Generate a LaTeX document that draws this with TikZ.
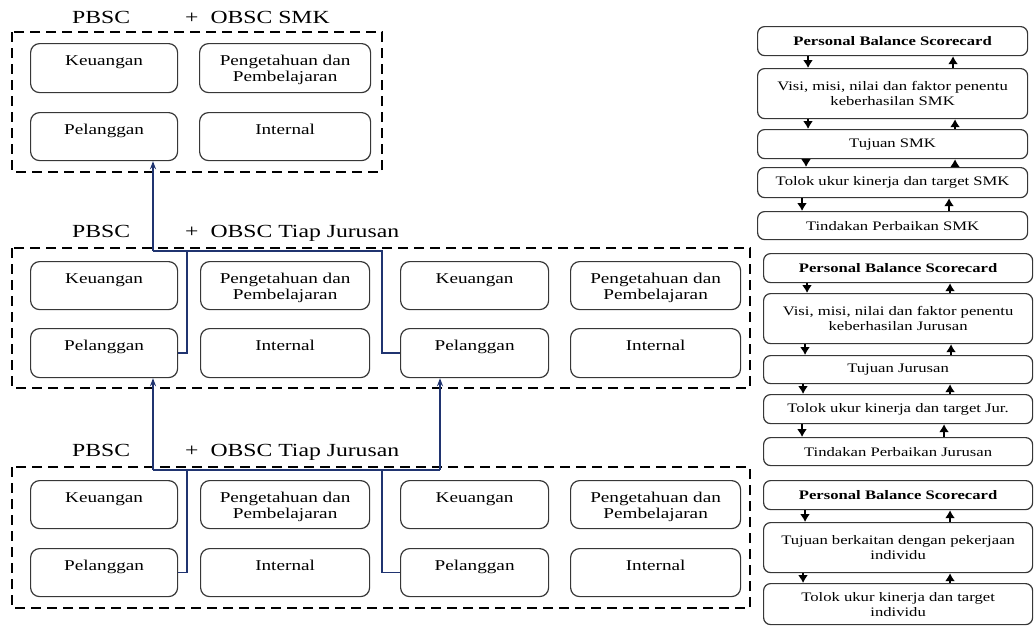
\documentclass[tikz,border=0pt]{standalone}
\usepackage{fontspec}
\setmainfont{Liberation Serif}[FakeStretch=1.28]
\usetikzlibrary{arrows.meta}
\definecolor{navy}{RGB}{32,52,112}
\definecolor{boxline}{RGB}{55,55,55}
\tikzset{
 panel/.style={draw=black, line width=2.3pt, dash pattern=on 10pt off 6pt},
 lbox/.style={draw=boxline, line width=1.2pt, rounded corners=9pt, inner sep=0pt, anchor=north west, font=\fontsize{15}{16.5}\selectfont},
 rbox/.style={draw=boxline, line width=1.2pt, rounded corners=7pt, inner sep=0pt, anchor=north west, align=center, font=\fontsize{13}{15}\selectfont},
 ttl/.style={anchor=base west, inner sep=0pt, font=\fontsize{18.5}{20}\selectfont},
 conn/.style={draw=navy, line width=1.3pt},
 connarr/.style={conn, line width=1.6pt, -{Stealth[length=8pt,width=6pt]}},
 rarr/.style={line width=1.5pt, -{Latex[length=8pt,width=10pt]}},
}
\newcommand{\boxtxt}[3]{\parbox[c][#2pt][t]{#1pt}{\centering\rule{0pt}{21.5pt}#3}}
\begin{document}
\begin{tikzpicture}[x=1pt,y=-1pt]
\useasboundingbox (0,0) rectangle (1035,627);
% ---------- top panel
\node[ttl] (t1a) at (72,23) {PBSC};
\node[ttl] (t1b) at (185,23) {+\hspace{12pt}OBSC SMK};
\draw[panel] (12,32) rectangle (382,172);
\node[lbox] (tk) at (30,43) {\boxtxt{147}{49}{Keuangan}};
\node[lbox] (tp) at (199,43) {\boxtxt{171}{49}{Pengetahuan dan\\Pembelajaran}};
\node[lbox] (tl) at (30,112) {\boxtxt{147}{48}{Pelanggan}};
\node[lbox] (ti) at (199,112) {\boxtxt{171}{48}{Internal}};
% ---------- middle panel
\node[ttl] (t2a) at (72,237) {PBSC};
\node[ttl] (t2b) at (185,237) {+\hspace{12pt}OBSC Tiap Jurusan};
\draw[panel] (12,248) rectangle (750,388);
\node[lbox] (mk1) at (30,261) {\boxtxt{147}{48}{Keuangan}};
\node[lbox] (mp1) at (200,261) {\boxtxt{169}{48}{Pengetahuan dan\\Pembelajaran}};
\node[lbox] (mk3) at (400,261) {\boxtxt{148}{48}{Keuangan}};
\node[lbox] (mp3) at (570,261) {\boxtxt{170}{48}{Pengetahuan dan\\Pembelajaran}};
\node[lbox] (ml1) at (30,328) {\boxtxt{147}{49}{Pelanggan}};
\node[lbox] (mi1) at (200,328) {\boxtxt{169}{49}{Internal}};
\node[lbox] (ml3) at (400,328) {\boxtxt{148}{49}{Pelanggan}};
\node[lbox] (mi3) at (570,328) {\boxtxt{170}{49}{Internal}};
% ---------- bottom panel
\node[ttl] (t3a) at (72,456) {PBSC};
\node[ttl] (t3b) at (185,456) {+\hspace{12pt}OBSC Tiap Jurusan};
\draw[panel] (12,467) rectangle (750,608);
\node[lbox] (bk1) at (30,480) {\boxtxt{147}{48}{Keuangan}};
\node[lbox] (bp1) at (200,480) {\boxtxt{169}{48}{Pengetahuan dan\\Pembelajaran}};
\node[lbox] (bk3) at (400,480) {\boxtxt{148}{48}{Keuangan}};
\node[lbox] (bp3) at (570,480) {\boxtxt{170}{48}{Pengetahuan dan\\Pembelajaran}};
\node[lbox] (bl1) at (30,548) {\boxtxt{147}{48}{Pelanggan}};
\node[lbox] (bi1) at (200,548) {\boxtxt{169}{48}{Internal}};
\node[lbox] (bl3) at (400,548) {\boxtxt{148}{48}{Pelanggan}};
\node[lbox] (bi3) at (570,548) {\boxtxt{170}{48}{Internal}};
% ---------- connectors (left)
\coordinate (jm1) at (187,251);
\coordinate (jm3) at (382,251);
\coordinate (bm) at (153,251);
\draw[conn] (ml1.east) -| (jm1) -- (jm3) |- (ml3.west);
\draw[conn] (bm) -- (jm1);
\draw[connarr] (bm) -- (bm |- tl.south);
\coordinate (jb1) at (187,470);
\coordinate (jb3) at (382,470);
\coordinate (bb1) at (153,470);
\coordinate (bb3) at (440,470);
\draw[conn] (bl1.east) -| (jb1);
\draw[conn] (bl3.west) -| (jb3);
\draw[conn] (bb1) -- (bb3);
\draw[connarr] (bb1) -- (bb1 |- ml1.south);
\draw[connarr] (bb3) -- (bb3 |- ml3.south);
% ---------- right column, group 1
\node[rbox, minimum width=270pt, minimum height=29pt] (r1a) at (757,26) {\textbf{Personal Balance Scorecard}};
\node[rbox, minimum width=270pt, minimum height=50pt] (r1b) at (757,68) {Visi, misi, nilai dan faktor penentu\\keberhasilan SMK};
\node[rbox, minimum width=270pt, minimum height=29pt] (r1c) at (757,129) {Tujuan SMK};
\node[rbox, minimum width=270pt, minimum height=30pt] (r1d) at (757,167) {Tolok ukur kinerja dan target SMK};
\node[rbox, minimum width=270pt, minimum height=28pt] (r1e) at (757,211) {Tindakan Perbaikan SMK};
\draw[rarr] ([xshift=51]r1a.south west) -- ([xshift=51]r1b.north west);
\draw[rarr] ([xshift=196]r1b.north west) -- ([xshift=196]r1a.south west);
\draw[rarr] ([xshift=51]r1b.south west) -- ([xshift=51]r1c.north west);
\draw[rarr] ([xshift=198]r1c.north west) -- ([xshift=198]r1b.south west);
\draw[rarr] ([xshift=49]r1c.south west) -- ([xshift=49]r1d.north west);
\draw[rarr] ([xshift=198]r1d.north west) -- ([xshift=198]r1c.south west);
\draw[rarr] ([xshift=45]r1d.south west) -- ([xshift=45]r1e.north west);
\draw[rarr] ([xshift=192]r1e.north west) -- ([xshift=192]r1d.south west);
% ---------- right column, group 2
\node[rbox, minimum width=269pt, minimum height=29pt] (r2a) at (763,253) {\textbf{Personal Balance Scorecard}};
\node[rbox, minimum width=269pt, minimum height=50pt] (r2b) at (763,293) {Visi, misi, nilai dan faktor penentu\\keberhasilan Jurusan};
\node[rbox, minimum width=269pt, minimum height=28pt] (r2c) at (763,355) {Tujuan Jurusan};
\node[rbox, minimum width=269pt, minimum height=29pt] (r2d) at (763,394) {Tolok ukur kinerja dan target Jur.};
\node[rbox, minimum width=269pt, minimum height=28pt] (r2e) at (763,437) {Tindakan Perbaikan Jurusan};
\draw[rarr] ([xshift=44]r2a.south west) -- ([xshift=44]r2b.north west);
\draw[rarr] ([xshift=187]r2b.north west) -- ([xshift=187]r2a.south west);
\draw[rarr] ([xshift=42]r2b.south west) -- ([xshift=42]r2c.north west);
\draw[rarr] ([xshift=188]r2c.north west) -- ([xshift=188]r2b.south west);
\draw[rarr] ([xshift=40]r2c.south west) -- ([xshift=40]r2d.north west);
\draw[rarr] ([xshift=187]r2d.north west) -- ([xshift=187]r2c.south west);
\draw[rarr] ([xshift=39]r2d.south west) -- ([xshift=39]r2e.north west);
\draw[rarr] ([xshift=181]r2e.north west) -- ([xshift=181]r2d.south west);
% ---------- right column, group 3
\node[rbox, minimum width=269pt, minimum height=29pt] (r3a) at (763,480) {\textbf{Personal Balance Scorecard}};
\node[rbox, minimum width=269pt, minimum height=50pt] (r3b) at (763,522) {Tujuan berkaitan dengan pekerjaan\\individu};
\node[rbox, minimum width=269pt, minimum height=41pt] (r3c) at (763,583) {Tolok ukur kinerja dan target\\individu};
\draw[rarr] ([xshift=42]r3a.south west) -- ([xshift=42]r3b.north west);
\draw[rarr] ([xshift=187]r3b.north west) -- ([xshift=187]r3a.south west);
\draw[rarr] ([xshift=40]r3b.south west) -- ([xshift=40]r3c.north west);
\draw[rarr] ([xshift=187]r3c.north west) -- ([xshift=187]r3b.south west);
\end{tikzpicture}
\end{document}
